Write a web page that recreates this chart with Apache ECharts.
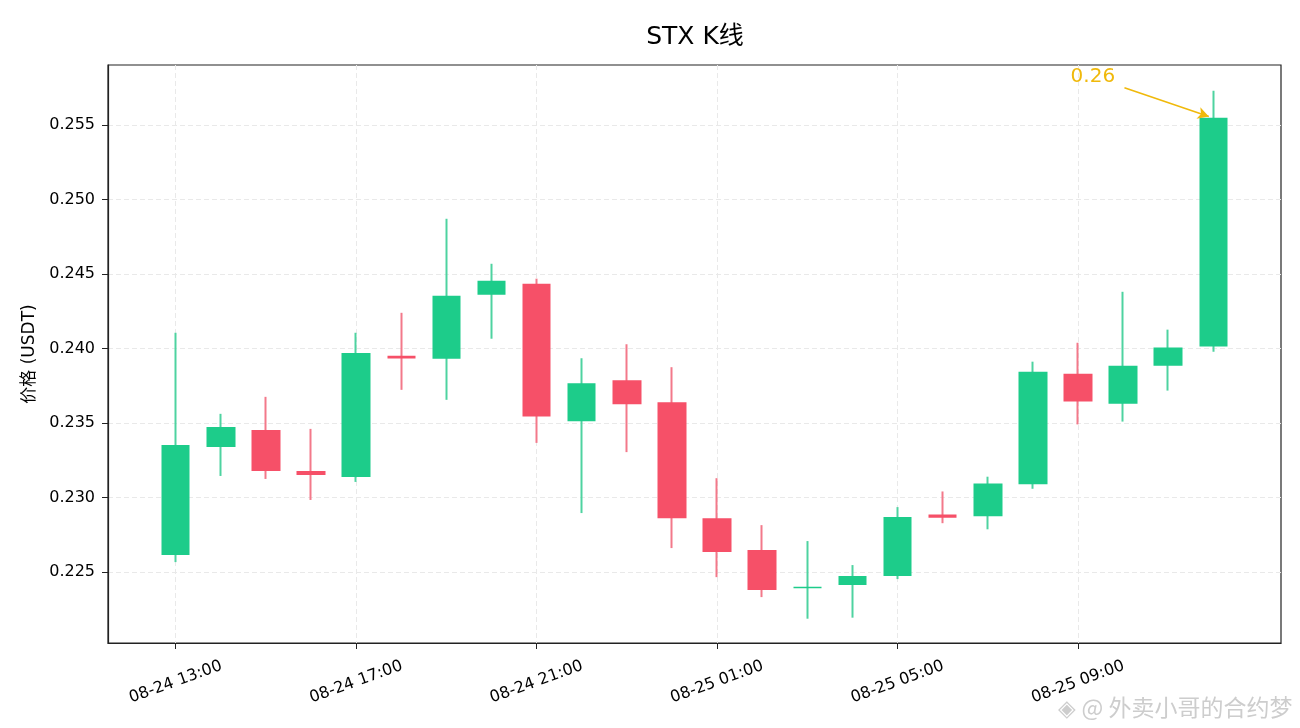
<!DOCTYPE html>
<html>
<head>
<meta charset="utf-8">
<script src="https://cdn.jsdelivr.net/npm/echarts@6/dist/echarts.min.js"></script>
<style>
html,body{margin:0;padding:0;background:#fff;}
#chart{width:1300px;height:728px;}
</style>
</head>
<body>
<div id="chart"></div>
<script>
// ---- data ----
const times = ['08-24 13:00','08-24 14:00','08-24 15:00','08-24 16:00','08-24 17:00','08-24 18:00',
  '08-24 19:00','08-24 20:00','08-24 21:00','08-24 22:00','08-24 23:00','08-25 00:00',
  '08-25 01:00','08-25 02:00','08-25 03:00','08-25 04:00','08-25 05:00','08-25 06:00',
  '08-25 07:00','08-25 08:00','08-25 09:00','08-25 10:00','08-25 11:00','08-25 12:00'];
const openP  = [0.22614,0.23340,0.23454,0.23179,0.23138,0.23951,0.23931,0.24361,0.24435,0.23513,0.23788,0.23640,
                0.22862,0.22648,0.22391,0.22413,0.22473,0.22886,0.22874,0.23089,0.23831,0.23630,0.23884,0.24014];
const closeP = [0.23353,0.23474,0.23179,0.23152,0.23971,0.23933,0.24354,0.24455,0.23544,0.23768,0.23627,0.22862,
                0.22634,0.22379,0.22402,0.22473,0.22869,0.22865,0.23094,0.23845,0.23644,0.23884,0.24007,0.25549];
const lowP   = [0.22567,0.23145,0.23125,0.22984,0.23105,0.23723,0.23656,0.24066,0.23367,0.22896,0.23305,0.22661,
                0.22466,0.22332,0.22187,0.22194,0.22453,0.22828,0.22787,0.23059,0.23491,0.23510,0.23718,0.23979];
const highP  = [0.24106,0.23562,0.23676,0.23461,0.24106,0.24240,0.24871,0.24569,0.24469,0.23935,0.24029,0.23875,
                0.23130,0.22815,0.22708,0.22547,0.22936,0.23041,0.23140,0.23912,0.24039,0.24381,0.24127,0.25731];
const xTickIdx = [0,4,8,12,16,20];
const yTicks = [0.225,0.230,0.235,0.240,0.245,0.250,0.255];
const lastLabel = '0.26';

const FONT = "'DejaVu Sans', 'Noto Sans CJK SC', sans-serif";
const GREEN = '#1dcc8a', GREEN_W = '#4ed3a0';
const RED = '#f65068', RED_W = '#f3798a';

const candleData = times.map((t,i)=>[i, openP[i], closeP[i], lowP[i], highP[i]]);
const last = times.length - 1;

const chart = echarts.init(document.getElementById('chart'), null, {renderer:'canvas'});
chart.setOption({
  animation:false,
  backgroundColor:'#fff',
  title:{text:'STX K线', left:690, textAlign:'center', top:20,
    textStyle:{fontFamily:FONT, fontSize:25, fontWeight:'normal', color:'#000'}},
  grid:{left:108, right:19, top:65, bottom:85, show:true, borderColor:'#222', borderWidth:1.2, backgroundColor:'transparent'},
  xAxis:{type:'value', min:-1.5, max:24.5,
    axisLine:{show:true, onZero:false, lineStyle:{color:'#222', width:1.2}},
    axisTick:{show:true, inside:false, length:6, customValues:xTickIdx, lineStyle:{color:'#222', width:1}},
    axisLabel:{customValues:xTickIdx, rotate:20, align:'center', verticalAlign:'middle', margin:39,
      fontFamily:FONT, fontSize:16, color:'#000', formatter:v=>times[Math.round(v)]||''},
    splitLine:{show:true, lineStyle:{color:'#e9e9e9', type:[5,3], width:1}}
  },
  yAxis:{type:'value', min:0.22024, max:0.25903, scale:true,
    name:'价格 (USDT)', nameLocation:'middle', nameGap:70, nameRotate:90,
    nameTextStyle:{fontFamily:FONT, fontSize:17, color:'#000'},
    axisLine:{show:true, onZero:false, lineStyle:{color:'#222', width:1.2}},
    axisTick:{show:true, inside:false, length:6, customValues:yTicks, lineStyle:{color:'#222', width:1}},
    axisLabel:{customValues:yTicks, margin:13, fontFamily:FONT, fontSize:16, color:'#000',
      formatter:v=>v.toFixed(3)},
    splitLine:{show:true, lineStyle:{color:'#e9e9e9', type:[5,3], width:1}}
  },
  series:[
    {type:'candlestick', name:'wick', data:candleData, encode:{x:0, y:[1,2,3,4]},
      barWidth:0.01, z:2,
      itemStyle:{color:GREEN_W, color0:RED_W, borderColor:GREEN_W, borderColor0:RED_W, borderWidth:2}
    },
    {type:'candlestick', name:'body', data:candleData, encode:{x:0, y:[1,2,3,4]},
      barWidth:29, z:3,
      itemStyle:{color:GREEN, color0:RED, borderColor:GREEN, borderColor0:RED, borderWidth:0},
      markPoint:{symbol:'circle', symbolSize:0, silent:true,
        data:[{coord:[20.33, 0.25824], value:lastLabel,
          label:{show:true, position:'inside', formatter:lastLabel, fontFamily:FONT, fontSize:20, color:'#f0b90b'}}]},
      markLine:{silent:true, symbol:['none','arrow'], symbolSize:[9,11],
        lineStyle:{color:'#f0b90b', width:1.6, type:'solid'}, label:{show:false},
        data:[[{coord:[21.03, 0.25750]}, {coord:[last-0.1, closeP[last]+0.00008]}]]}
    }
  ],
  graphic:[
    {type:'text', right:7, bottom:9, z:100,
      style:{text:'◈ @ 外卖小哥的合约梦', font:"23px 'Noto Sans CJK SC', sans-serif",
        fill:'#cdcdcd', stroke:'#ffffff', lineWidth:1}}
  ]
});
</script>
</body>
</html>
